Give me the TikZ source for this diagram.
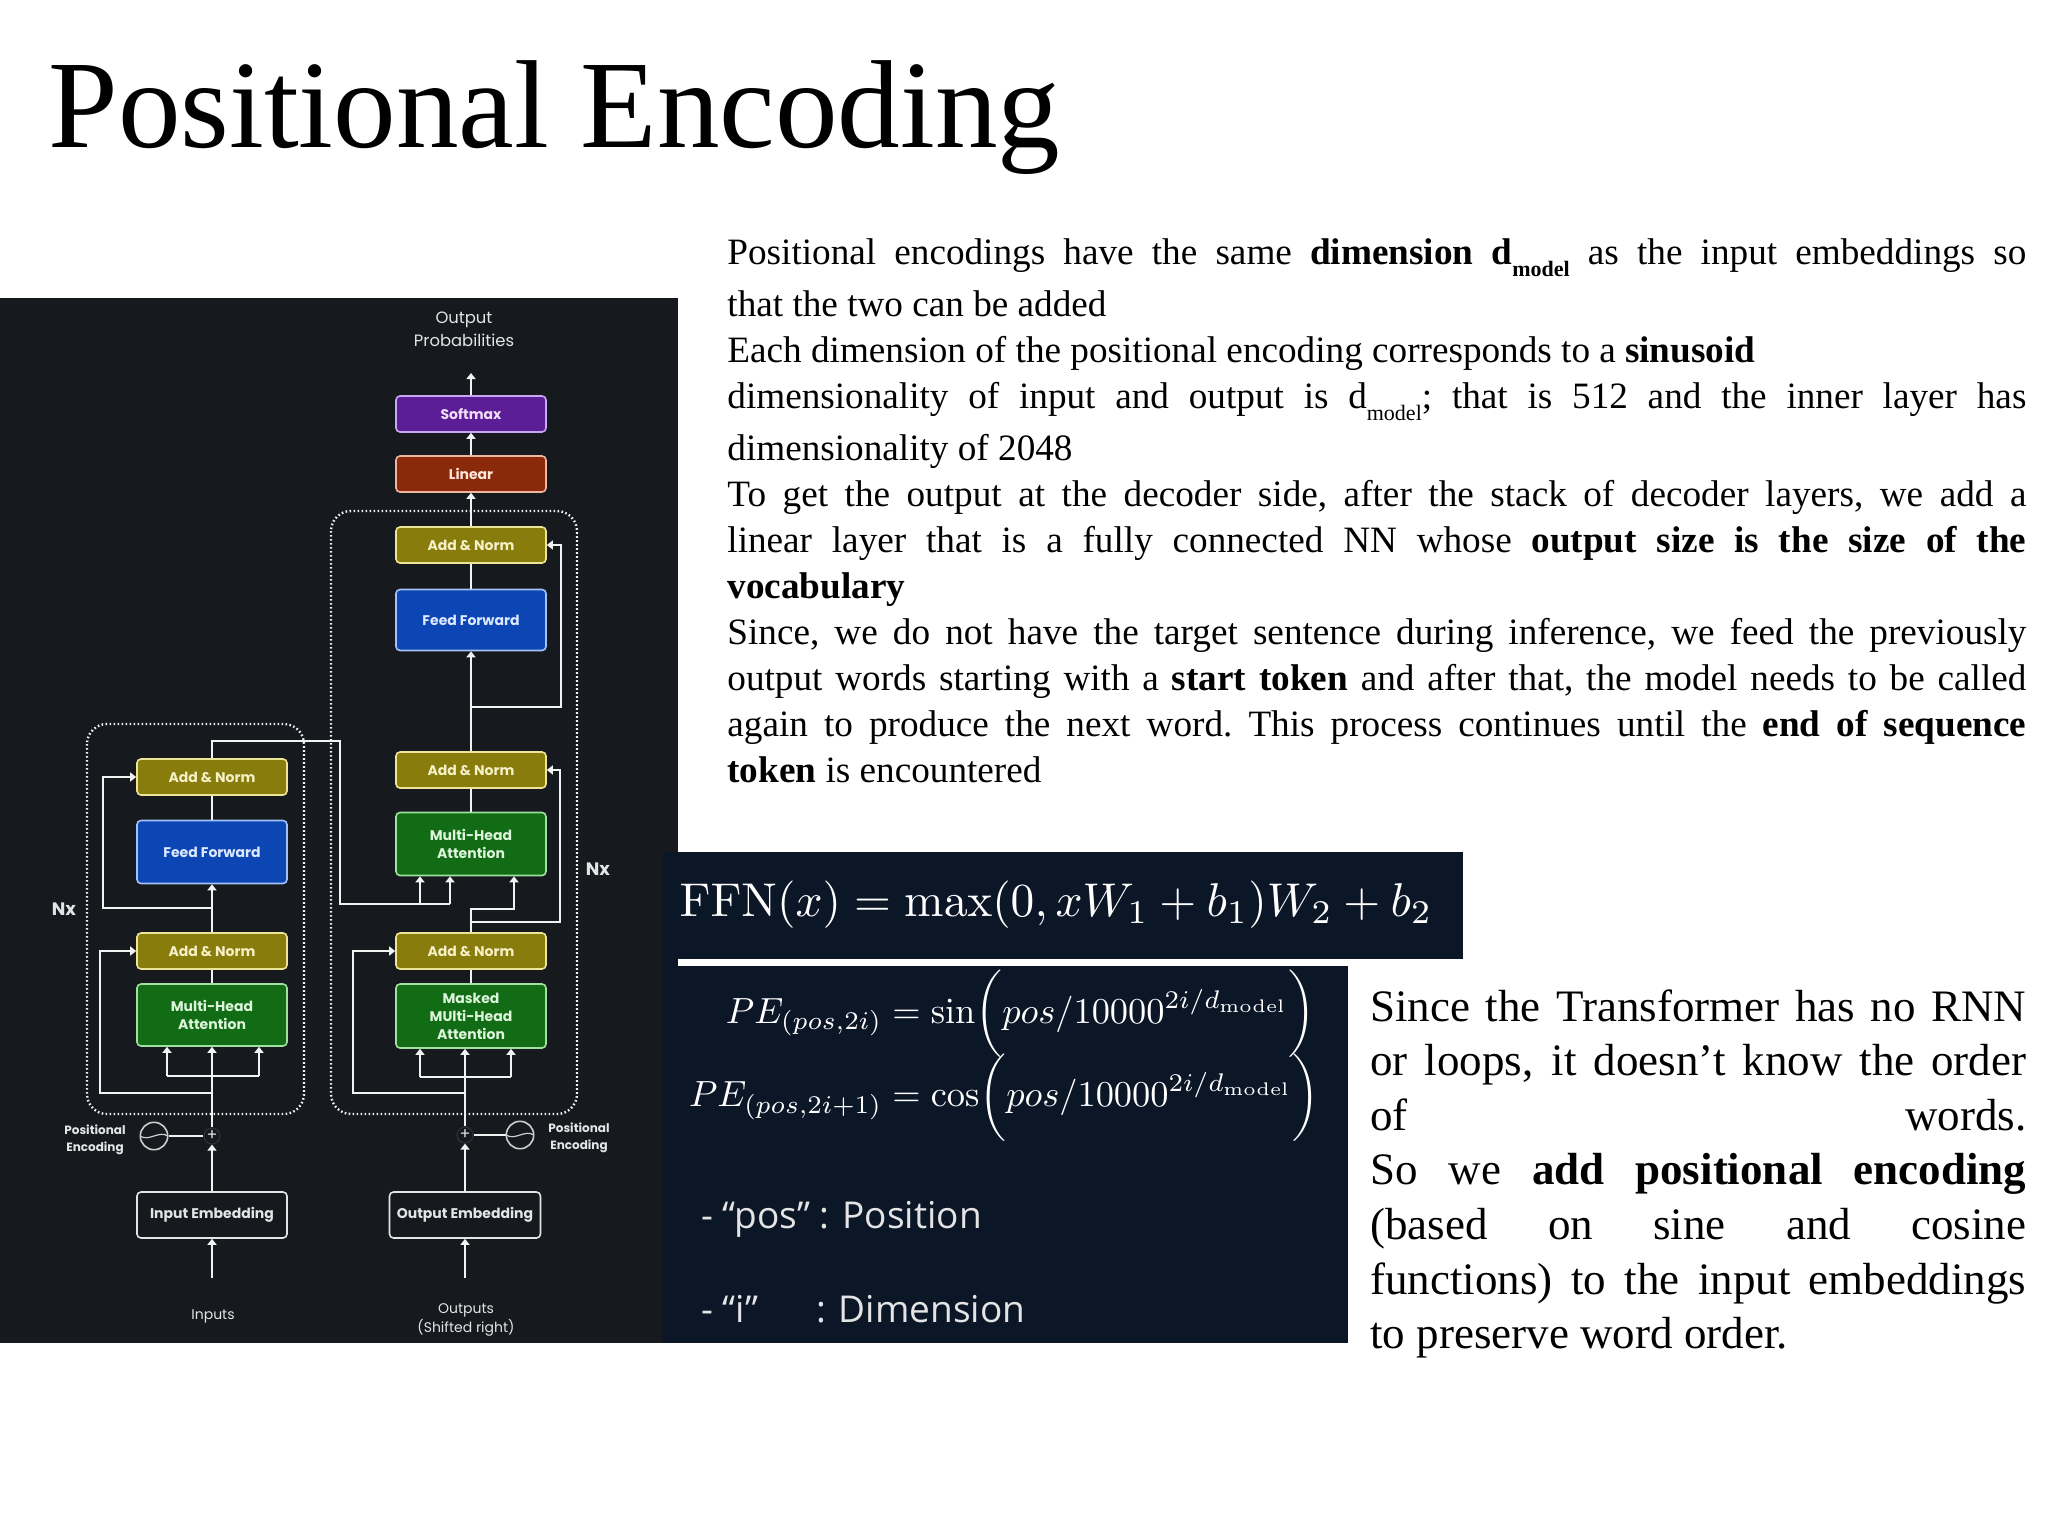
\documentclass[tikz,border=0pt]{standalone}
\usepackage{fix-cm}
\usepackage{amsmath}
\usepackage{graphicx}
\usepackage[no-math]{fontspec}
\setmainfont{Liberation Serif}
\newfontfamily\diagfont{Poppins}
\newfontfamily\notefont{Open Sans}
\usetikzlibrary{arrows.meta}
\definecolor{panelbg}{HTML}{16191E}
\definecolor{navybg}{HTML}{0B1627}
\definecolor{normfill}{HTML}{877C0C}
\definecolor{normline}{HTML}{EFE59A}
\definecolor{normtext}{HTML}{F6F0C6}
\definecolor{fffill}{HTML}{0C45B4}
\definecolor{ffline}{HTML}{A3C2F5}
\definecolor{fftext}{HTML}{DCE8FF}
\definecolor{mhafill}{HTML}{126B15}
\definecolor{mhaline}{HTML}{A2E09F}
\definecolor{mhatext}{HTML}{DDF5DA}
\definecolor{linfill}{HTML}{8A2A0A}
\definecolor{linline}{HTML}{ECB6A2}
\definecolor{lintext}{HTML}{FFE4D8}
\definecolor{smfill}{HTML}{5B1E96}
\definecolor{smline}{HTML}{C8A8F0}
\definecolor{smtext}{HTML}{F3DDFB}
\definecolor{wireclr}{HTML}{F2F2F2}
\definecolor{labelclr}{HTML}{E4E4E4}
\definecolor{sumring}{HTML}{2C3038}
\definecolor{sinclr}{HTML}{CDCDCD}

\tikzset{
  blk/.style={draw, rounded corners=2pt, line width=0.8pt, minimum width=75pt,
    inner sep=0pt, align=center, font=\diagfont\bfseries\fontsize{7}{9}\selectfont},
  normblk/.style={blk, fill=normfill, draw=normline, text=normtext, minimum height=18pt},
  ffblk/.style={blk, fill=fffill, draw=ffline, text=fftext},
  mhablk/.style={blk, fill=mhafill, draw=mhaline, text=mhatext},
  embblk/.style={blk, fill=panelbg, draw=labelclr, text=labelclr, minimum height=23pt},
  wire/.style={draw=wireclr, line width=1pt},
  arr/.style={wire, -{Triangle[length=3pt,width=4.5pt]}},
  stackbox/.style={draw=wireclr, line width=1.2pt, dash pattern=on 0.8pt off 1.2pt, rounded corners=10pt},
  sumnode/.style={circle, draw=sumring, line width=0.6pt, minimum size=8pt, inner sep=0pt,
    text=labelclr, font=\diagfont\fontsize{8}{8}\selectfont},
  sincircle/.style={circle, draw=sinclr, line width=0.8pt, minimum size=13.7pt, inner sep=0pt,
    path picture={\draw[sinclr, line width=0.6pt] (path picture bounding box.west)
      .. controls +(4pt,-3pt) and +(-4pt,3pt) .. (path picture bounding box.east);}},
  smalllabel/.style={text=labelclr, align=center, font=\diagfont\bfseries\fontsize{6}{8.5}\selectfont},
  notetext/.style={anchor=north west, inner sep=0pt, align=justify},
}

\begin{document}
\begin{tikzpicture}[x=0.5pt,y=0.5pt]
  % page
  \fill[white] (0,0) rectangle (2048,-1536);
  \useasboundingbox (0,0) rectangle (2048,-1536);

  % Title
  \node[anchor=base west, inner sep=0pt, font=\fontsize{62.6}{70}\selectfont] (title) at (48,-148) {Positional Encoding};

  % Notes on the right
  \node[notetext, text width=649.5pt, font=\fontsize{18.6}{23}\selectfont] (notes) at (727,-238) {%
    \setlength\parindent{0pt}\frenchspacing
    Positional encodings have the same \textbf{dimension d\raisebox{-6pt}{\fontsize{11}{11}\selectfont model}} as the input embeddings so\vadjust{\vskip3pt}\linebreak
    that the two can be added\par
    Each dimension of the positional encoding corresponds to a \textbf{sinusoid}\par
    dimensionality of input and output is d\raisebox{-6pt}{\fontsize{11}{11}\selectfont model}; that is 512 and the inner layer has\vadjust{\vskip3pt}\linebreak
    dimensionality of 2048\par
    To get the output at the decoder side, after the stack of decoder layers, we add a\linebreak
    linear layer that is a fully connected NN whose \textbf{output size is the size of the}\linebreak
    \textbf{vocabulary}\par
    Since, we do not have the target sentence during inference, we feed the previously\linebreak
    output words starting with a \textbf{start token} and after that, the model needs to be called\linebreak
    again to produce the next word. This process continues until the \textbf{end of sequence}\linebreak
    \textbf{token} is encountered};

  % Dark panels
  \fill[panelbg] (0,-298) rectangle (678,-1343);
  \fill[navybg] (663,-966) rectangle (1348,-1343);
  \fill[navybg] (663,-852) rectangle (1463,-959);
  \fill[navybg] (663,-852) rectangle (678,-1343);

  % Formulas
  \node[text=white] (ffn) at (1056,-905)
    {\scalebox{2.37}{$\mathrm{FFN}(x) = \max(0, xW_1 + b_1)W_2 + b_2$}};
  \node[text=white] (pe) at (1004,-1056)
    {\scalebox{1.82}{$\begin{aligned}
      PE_{(pos,2i)} &= \sin\biggl(pos/10000^{2i/d_{\mathrm{model}}}\biggr)\\[-5pt]
      PE_{(pos,2i+1)} &= \cos\biggl(pos/10000^{2i/d_{\mathrm{model}}}\biggr)
    \end{aligned}$}};
  \node[anchor=west, inner sep=0pt, text=labelclr, font=\notefont\fontsize{18.5}{22}\selectfont] (posnote) at (701,-1219) {- “pos” : Position};
  \node[anchor=west, inner sep=0pt, text=labelclr, font=\notefont\fontsize{18.5}{22}\selectfont] (dimnote) at (701,-1309) {- “i”\hspace{29pt}: Dimension};

  % Notes at bottom right
  \node[notetext, text width=328pt, font=\fontsize{22.5}{27.3}\selectfont] (ordernote) at (1370,-989) {%
    \setlength\parindent{0pt}%
    Since the Transformer has no RNN\linebreak
    or loops, it doesn't know the order\linebreak
    of words.\linebreak
    So we \textbf{add positional encoding}\linebreak
    (based on sine and cosine\linebreak
    functions) to the input embeddings\linebreak
    to preserve word order.};

  % Stacks
  \draw[stackbox] (87,-724) rectangle (304,-1114);
  \draw[stackbox] (331,-511) rectangle (577,-1114);

  % Encoder blocks
  \node[embblk] (inemb) at (212,-1215) {Input Embedding};
  \node[mhablk, minimum height=31pt] (encmha) at (212,-1015) {Multi-Head\\Attention};
  \node[normblk] (encnorm1) at (212,-951) {Add \& Norm};
  \node[ffblk, minimum height=31.5pt] (encff) at (212,-852) {Feed Forward};
  \node[normblk] (encnorm2) at (212,-777) {Add \& Norm};

  % Decoder blocks
  \node[embblk, minimum width=75.5pt] (outemb) at (465,-1215) {Output Embedding};
  \node[mhablk, minimum height=32pt] (decmask) at (471,-1016) {Masked\\MUlti-Head\\Attention};
  \node[normblk] (decnorm1) at (471,-951) {Add \& Norm};
  \node[mhablk, minimum height=31.5pt] (decmha) at (471,-844) {Multi-Head\\Attention};
  \node[normblk] (decnorm2) at (471,-770) {Add \& Norm};
  \node[ffblk, minimum height=30.5pt] (decff) at (471,-620) {Feed Forward};
  \node[normblk] (decnorm3) at (471,-545) {Add \& Norm};
  \node[blk, fill=linfill, draw=linline, text=lintext, minimum height=18pt] (linear) at (471,-474) {Linear};
  \node[blk, fill=smfill, draw=smline, text=smtext, minimum height=18pt] (softmax) at (471,-414) {Softmax};

  % Positional encoding
  \node[sumnode] (encplus) at (212,-1136) {+};
  \node[sincircle] (encsin) at (154,-1136) {};
  \node[sumnode] (decplus) at (465,-1135) {+};
  \node[sincircle] (decsin) at (520,-1135) {};

  % Labels
  \node[text=labelclr, align=center, font=\diagfont\fontsize{8.2}{11.5}\selectfont] (probs) at (464,-329) {Output\\Probabilities};
  \node[text=labelclr, font=\diagfont\bfseries\fontsize{9}{9}\selectfont] (encnx) at (64,-909) {Nx};
  \node[text=labelclr, font=\diagfont\bfseries\fontsize{9}{9}\selectfont] (decnx) at (598,-869) {Nx};
  \node[smalllabel] (encpelabel) at (95,-1140) {Positional\\Encoding};
  \node[smalllabel] (decpelabel) at (579,-1138) {Positional\\Encoding};
  \node[text=labelclr, font=\diagfont\fontsize{7}{9}\selectfont] (inlabel) at (213,-1316) {Inputs};
  \node[text=labelclr, align=center, font=\diagfont\fontsize{7}{9.8}\selectfont] (outlabel) at (466,-1320) {Outputs\\(Shifted right)};

  \coordinate (inbot) at (212,-1278);
  \coordinate (outbot) at (465,-1278);
  \coordinate (probtop) at (471,-373);

  % Encoder wires
  \draw[arr] (inbot) -- (inemb);
  \draw[arr] (inemb) -- (encplus);
  \draw[wire] (encsin) -- (encplus);
  \draw[arr] (encplus) -- (encmha);
  \coordinate (encbrl) at (167,-1076);
  \coordinate (encbrr) at (259,-1076);
  \draw[wire] (encbrl) -- (encbrr);
  \draw[arr] (encbrl) -- (encbrl |- encmha.south);
  \draw[arr] (encbrr) -- (encbrr |- encmha.south);
  \coordinate (encres1) at (100,-1093);
  \draw[arr] (encplus |- encres1) -- (encres1) |- (encnorm1.west);
  \draw[wire] (encmha) -- (encnorm1);
  \draw[arr] (encnorm1) -- (encff);
  \coordinate (encres2) at (103,-908);
  \draw[arr] (encnorm1 |- encres2) -- (encres2) |- (encnorm2.west);
  \draw[wire] (encff) -- (encnorm2);

  % Encoder output into decoder
  \coordinate (encbend) at (340,-741);
  \coordinate (enckey) at (420,-904);
  \coordinate (encval) at (450,-904);
  \draw[wire] (encnorm2.north) |- (encbend) |- (encval);
  \draw[arr] (enckey) -- (enckey |- decmha.south);
  \draw[arr] (encval) -- (encval |- decmha.south);

  % Decoder wires
  \draw[arr] (outbot) -- (outemb);
  \draw[arr] (outemb) -- (decplus);
  \draw[wire] (decplus) -- (decsin);
  \draw[arr] (decplus) -- (decplus |- decmask.south);
  \coordinate (decbrl) at (420,-1077);
  \coordinate (decbrr) at (511,-1077);
  \draw[wire] (decbrl) -- (decbrr);
  \draw[arr] (decbrl) -- (decbrl |- decmask.south);
  \draw[arr] (decbrr) -- (decbrr |- decmask.south);
  \coordinate (decres1) at (353,-1093);
  \draw[arr] (decplus |- decres1) -- (decres1) |- (decnorm1.west);
  \draw[wire] (decmask) -- (decnorm1);
  \coordinate (decqry) at (514,-909);
  \draw[arr] (decnorm1.north) |- (decqry) -- (decqry |- decmha.south);
  \coordinate (decres2) at (560,-922);
  \draw[arr] (decnorm1.north |- decres2) -- (decres2) |- (decnorm2.east);
  \draw[wire] (decmha) -- (decnorm2);
  \draw[arr] (decnorm2) -- (decff);
  \coordinate (decres3) at (561,-707);
  \draw[arr] (decnorm2.north |- decres3) -- (decres3) |- (decnorm3.east);
  \draw[wire] (decff) -- (decnorm3);
  \draw[arr] (decnorm3) -- (linear);
  \draw[arr] (linear) -- (softmax);
  \draw[arr] (softmax) -- (probtop);
\end{tikzpicture}
\end{document}
